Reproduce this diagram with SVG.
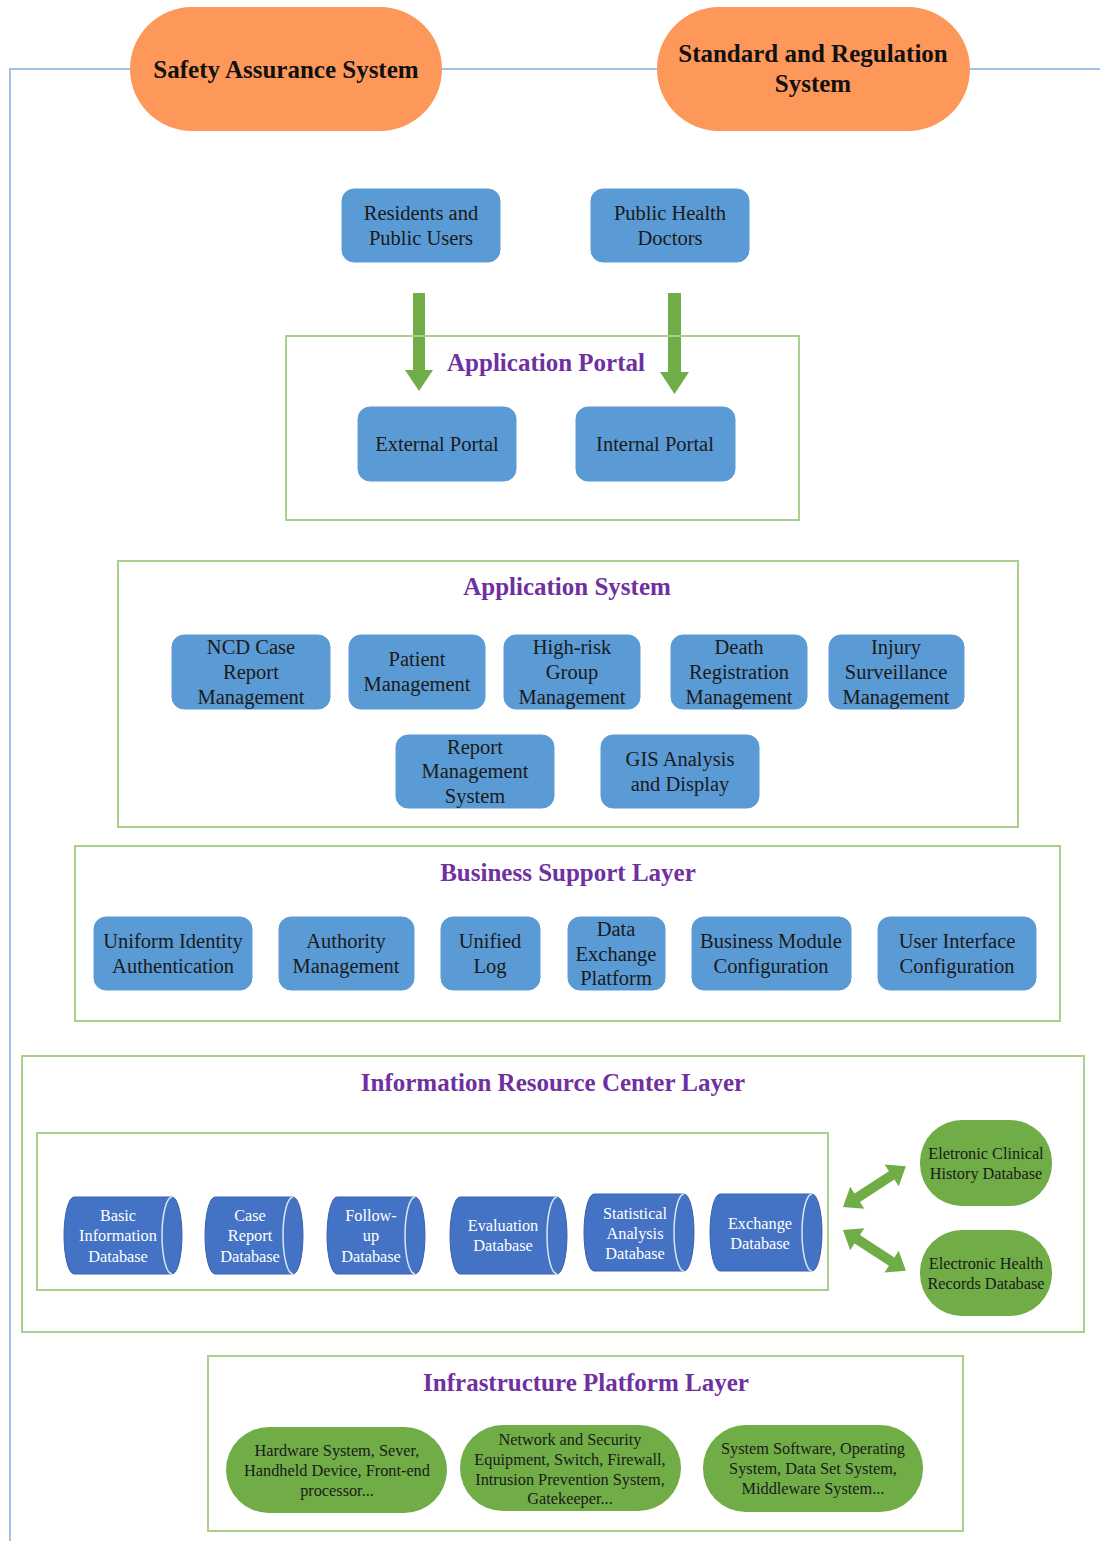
<svg xmlns="http://www.w3.org/2000/svg" width="1100" height="1541" viewBox="0 0 1100 1541">
<style>
.bg{fill:#ffffff}
.guide{fill:none;stroke:#9dc3e6;stroke-width:2}
.layer{fill:none;stroke:#a9d18e;stroke-width:2}
.orange{fill:#fd975a}
.blue{fill:#5b9bd5;stroke:#5b9bd5;stroke-width:1}
.db{fill:#4472c4;stroke:#3a62ad;stroke-width:1}
.dbline{fill:none;stroke:#dbe4f3;stroke-width:1.5}
.green{fill:#70ad47}
.t{font-family:"Liberation Serif","Times New Roman",serif;text-anchor:middle;fill:#1a1a1a}
.bt{font-size:20.5px}
.ot{font-size:25px;font-weight:bold;fill:#111}
.title{font-size:25px;font-weight:bold;fill:#7030a0}
.dt{font-size:16.3px;fill:#ffffff}
.gt{font-size:16.3px}
</style>
<rect class="bg" x="0" y="0" width="1100" height="1541"/>

<g id="connectors">
  <path class="guide" d="M1100,69 H10 V1541"/>
  <polygon fill="#70ad47" points="413,293 425,293 425,370 433,370 419,391 405,370 413,370"/>
  <polygon fill="#70ad47" points="668,293 681,293 681,372 689,372 674.5,394 660,372 668,372"/>
  <polygon fill="#70ad47" transform="translate(843,1207) rotate(-33)" points="0,0 17,-13 17,-5 58,-5 58,-13 75,0 58,13 58,5 17,5 17,13"/>
  <polygon fill="#70ad47" transform="translate(843,1230) rotate(33)" points="0,0 17,-13 17,-5 58,-5 58,-13 75,0 58,13 58,5 17,5 17,13"/>
</g>

<g id="safety">
  <rect class="orange" x="130" y="7" width="312" height="124" rx="62"/>
  <text class="t ot" x="286" y="78">Safety Assurance System</text>
</g>
<g id="standard">
  <rect class="orange" x="657" y="7" width="313" height="124" rx="62"/>
  <text class="t ot" x="813" y="62">Standard and Regulation</text>
  <text class="t ot" x="813" y="92">System</text>
</g>

<g id="residents">
  <rect class="blue" x="342" y="189" width="158" height="73" rx="12"/>
  <text class="t bt" x="421" y="220">Residents and</text>
  <text class="t bt" x="421" y="245">Public Users</text>
</g>
<g id="doctors">
  <rect class="blue" x="591" y="189" width="158" height="73" rx="12"/>
  <text class="t bt" x="670" y="220">Public Health</text>
  <text class="t bt" x="670" y="245">Doctors</text>
</g>

<g id="application-portal">
  <rect class="layer" x="286" y="336" width="513" height="184"/>
  <text class="t title" x="546" y="371">Application Portal</text>
</g>
<g id="external-portal">
  <rect class="blue" x="358" y="407" width="158" height="74" rx="12"/>
  <text class="t bt" x="437" y="451">External Portal</text>
</g>
<g id="internal-portal">
  <rect class="blue" x="576" y="407" width="159" height="74" rx="12"/>
  <text class="t bt" x="655" y="451">Internal Portal</text>
</g>

<g id="application-system">
  <rect class="layer" x="118" y="561" width="900" height="266"/>
  <text class="t title" x="567" y="595">Application System</text>
</g>
<g id="ncd">
  <rect class="blue" x="172" y="635" width="158" height="74" rx="12"/>
  <text class="t bt" x="251" y="654">NCD Case</text>
  <text class="t bt" x="251" y="679">Report</text>
  <text class="t bt" x="251" y="704">Management</text>
</g>
<g id="patient">
  <rect class="blue" x="349" y="635" width="136" height="74" rx="12"/>
  <text class="t bt" x="417" y="666">Patient</text>
  <text class="t bt" x="417" y="691">Management</text>
</g>
<g id="highrisk">
  <rect class="blue" x="504" y="635" width="136" height="74" rx="12"/>
  <text class="t bt" x="572" y="654">High-risk</text>
  <text class="t bt" x="572" y="679">Group</text>
  <text class="t bt" x="572" y="704">Management</text>
</g>
<g id="death">
  <rect class="blue" x="671" y="635" width="136" height="74" rx="12"/>
  <text class="t bt" x="739" y="654">Death</text>
  <text class="t bt" x="739" y="679">Registration</text>
  <text class="t bt" x="739" y="704">Management</text>
</g>
<g id="injury">
  <rect class="blue" x="829" y="635" width="135" height="74" rx="12"/>
  <text class="t bt" x="896" y="654">Injury</text>
  <text class="t bt" x="896" y="679">Surveillance</text>
  <text class="t bt" x="896" y="704">Management</text>
</g>
<g id="report-mgmt">
  <rect class="blue" x="396" y="735" width="158" height="73" rx="12"/>
  <text class="t bt" x="475" y="754">Report</text>
  <text class="t bt" x="475" y="778">Management</text>
  <text class="t bt" x="475" y="803">System</text>
</g>
<g id="gis">
  <rect class="blue" x="601" y="735" width="158" height="73" rx="12"/>
  <text class="t bt" x="680" y="766">GIS Analysis</text>
  <text class="t bt" x="680" y="791">and Display</text>
</g>

<g id="business-support">
  <rect class="layer" x="75" y="846" width="985" height="175"/>
  <text class="t title" x="568" y="881">Business Support Layer</text>
</g>
<g id="uniform">
  <rect class="blue" x="94" y="917" width="158" height="73" rx="12"/>
  <text class="t bt" x="173" y="948">Uniform Identity</text>
  <text class="t bt" x="173" y="973">Authentication</text>
</g>
<g id="authority">
  <rect class="blue" x="279" y="917" width="135" height="73" rx="12"/>
  <text class="t bt" x="346" y="948">Authority</text>
  <text class="t bt" x="346" y="973">Management</text>
</g>
<g id="unified-log">
  <rect class="blue" x="441" y="917" width="99" height="73" rx="12"/>
  <text class="t bt" x="490" y="948">Unified</text>
  <text class="t bt" x="490" y="973">Log</text>
</g>
<g id="data-exchange">
  <rect class="blue" x="568" y="917" width="97" height="73" rx="12"/>
  <text class="t bt" x="616" y="936">Data</text>
  <text class="t bt" x="616" y="961">Exchange</text>
  <text class="t bt" x="616" y="985">Platform</text>
</g>
<g id="business-module">
  <rect class="blue" x="692" y="917" width="159" height="73" rx="12"/>
  <text class="t bt" x="771" y="948">Business Module</text>
  <text class="t bt" x="771" y="973">Configuration</text>
</g>
<g id="user-interface">
  <rect class="blue" x="878" y="917" width="158" height="73" rx="12"/>
  <text class="t bt" x="957" y="948">User Interface</text>
  <text class="t bt" x="957" y="973">Configuration</text>
</g>

<g id="information-resource">
  <rect class="layer" x="22" y="1056" width="1062" height="276"/>
  <text class="t title" x="553" y="1091">Information Resource Center Layer</text>
  <rect class="layer" x="37" y="1133" width="791" height="157"/>
</g>
<g id="db-basic">
  <path class="db" d="M74,1197 H172 A10,38.5 0 0 1 172,1274 H74 A10,38.5 0 0 1 74,1197 Z"/>
  <path class="dbline" d="M172,1197 A10,38.5 0 0 0 172,1274"/>
  <text class="t dt" x="118" y="1221">Basic</text>
  <text class="t dt" x="118" y="1241">Information</text>
  <text class="t dt" x="118" y="1262">Database</text>
</g>
<g id="db-case">
  <path class="db" d="M215,1197 H293 A10,38.5 0 0 1 293,1274 H215 A10,38.5 0 0 1 215,1197 Z"/>
  <path class="dbline" d="M293,1197 A10,38.5 0 0 0 293,1274"/>
  <text class="t dt" x="250" y="1221">Case</text>
  <text class="t dt" x="250" y="1241">Report</text>
  <text class="t dt" x="250" y="1262">Database</text>
</g>
<g id="db-followup">
  <path class="db" d="M337,1197 H415 A10,38.5 0 0 1 415,1274 H337 A10,38.5 0 0 1 337,1197 Z"/>
  <path class="dbline" d="M415,1197 A10,38.5 0 0 0 415,1274"/>
  <text class="t dt" x="371" y="1221">Follow-</text>
  <text class="t dt" x="371" y="1241">up</text>
  <text class="t dt" x="371" y="1262">Database</text>
</g>
<g id="db-evaluation">
  <path class="db" d="M460,1197 H557 A10,38.5 0 0 1 557,1274 H460 A10,38.5 0 0 1 460,1197 Z"/>
  <path class="dbline" d="M557,1197 A10,38.5 0 0 0 557,1274"/>
  <text class="t dt" x="503" y="1231">Evaluation</text>
  <text class="t dt" x="503" y="1251">Database</text>
</g>
<g id="db-statistical">
  <path class="db" d="M594,1194 H684 A10,38.5 0 0 1 684,1271 H594 A10,38.5 0 0 1 594,1194 Z"/>
  <path class="dbline" d="M684,1194 A10,38.5 0 0 0 684,1271"/>
  <text class="t dt" x="635" y="1219">Statistical</text>
  <text class="t dt" x="635" y="1239">Analysis</text>
  <text class="t dt" x="635" y="1259">Database</text>
</g>
<g id="db-exchange">
  <path class="db" d="M720,1194 H812 A10,38.5 0 0 1 812,1271 H720 A10,38.5 0 0 1 720,1194 Z"/>
  <path class="dbline" d="M812,1194 A10,38.5 0 0 0 812,1271"/>
  <text class="t dt" x="760" y="1229">Exchange</text>
  <text class="t dt" x="760" y="1249">Database</text>
</g>
<g id="clinical-history">
  <rect class="green" x="920" y="1120" width="132" height="86" rx="42"/>
  <text class="t gt" x="986" y="1159">Eletronic Clinical</text>
  <text class="t gt" x="986" y="1179">History Database</text>
</g>
<g id="health-records">
  <rect class="green" x="920" y="1230" width="132" height="86" rx="42"/>
  <text class="t gt" x="986" y="1269">Electronic Health</text>
  <text class="t gt" x="986" y="1289">Records Database</text>
</g>

<g id="infrastructure">
  <rect class="layer" x="208" y="1356" width="755" height="175"/>
  <text class="t title" x="586" y="1391">Infrastructure Platform Layer</text>
</g>
<g id="hardware">
  <rect class="green" x="226" y="1427" width="221" height="86" rx="43"/>
  <text class="t gt" x="337" y="1456">Hardware System, Sever,</text>
  <text class="t gt" x="337" y="1476">Handheld Device, Front-end</text>
  <text class="t gt" x="337" y="1496">processor...</text>
</g>
<g id="network">
  <rect class="green" x="460" y="1425" width="221" height="86" rx="43"/>
  <text class="t gt" x="570" y="1445">Network and Security</text>
  <text class="t gt" x="570" y="1465">Equipment, Switch, Firewall,</text>
  <text class="t gt" x="570" y="1485">Intrusion Prevention System,</text>
  <text class="t gt" x="570" y="1504">Gatekeeper...</text>
</g>
<g id="software">
  <rect class="green" x="703" y="1425" width="220" height="87" rx="43"/>
  <text class="t gt" x="813" y="1454">System Software, Operating</text>
  <text class="t gt" x="813" y="1474">System, Data Set System,</text>
  <text class="t gt" x="813" y="1494">Middleware System...</text>
</g>
</svg>
